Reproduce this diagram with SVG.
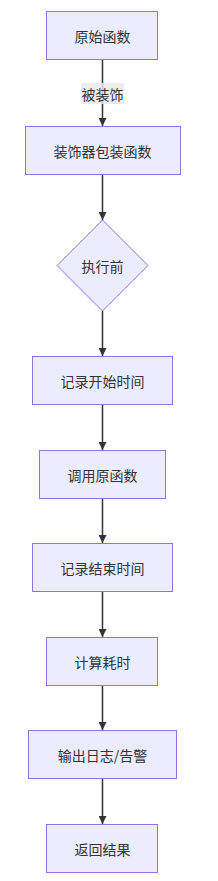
<svg xmlns="http://www.w3.org/2000/svg" width="218" height="881" viewBox="0 0 218 881">
<style>
.node rect, .node polygon { fill: #ECECFF; stroke: #9370DB; stroke-width: 1; }
.node text { font-family: "Noto Sans CJK SC", "Liberation Sans", sans-serif; font-size: 14px; fill: #333333; text-anchor: middle; dominant-baseline: central; }
.edges path { stroke: #333333; stroke-width: 1.5; fill: none; marker-end: url(#arrow); }
.elabel rect { fill: #E8E8E8; fill-opacity: 0.8; }
.elabel text { font-family: "Noto Sans CJK SC", "Liberation Sans", sans-serif; font-size: 14px; fill: #333333; text-anchor: middle; dominant-baseline: central; }
</style>
<defs>
<marker id="arrow" viewBox="0 0 10 10" refX="10" refY="5" markerWidth="8" markerHeight="8" markerUnits="userSpaceOnUse" orient="auto">
<path d="M0,0 L10,5 L0,10 z" fill="#333333"/>
</marker>
</defs>
<rect width="218" height="881" fill="#ffffff"/>
<g class="edges">
<path d="M102.5,60 V126"/>
<path d="M102.5,175 V220"/>
<path d="M102.5,311 V356"/>
<path d="M102.5,405 V450"/>
<path d="M102.5,499 V543"/>
<path d="M102.5,592 V637"/>
<path d="M102.5,686 V730"/>
<path d="M102.5,779 V824"/>
</g>
<g class="elabel" id="label-e1">
<rect x="81" y="83" width="43" height="21"/>
<text x="102.5" y="93.5">被装饰</text>
</g>
<g class="node" id="n1"><rect x="46.5" y="11.5" width="111" height="48"/><text x="102.5" y="35.5">原始函数</text></g>
<g class="node" id="n2"><rect x="25.5" y="126.5" width="155" height="48"/><text x="102.5" y="150.5">装饰器包装函数</text></g>
<g class="node" id="n3"><polygon points="102.5,220 148,265.5 102.5,311 57,265.5"/><text x="102.5" y="265.5">执行前</text></g>
<g class="node" id="n4"><rect x="32.5" y="356.5" width="140" height="48"/><text x="102.5" y="380.5">记录开始时间</text></g>
<g class="node" id="n5"><rect x="39.5" y="450.5" width="126" height="48"/><text x="102.5" y="474.5">调用原函数</text></g>
<g class="node" id="n6"><rect x="32.5" y="543.5" width="140" height="48"/><text x="102.5" y="567.5">记录结束时间</text></g>
<g class="node" id="n7"><rect x="46.5" y="637.5" width="111" height="48"/><text x="102.5" y="661.5">计算耗时</text></g>
<g class="node" id="n8"><rect x="28.5" y="730.5" width="148" height="48"/><text x="102.5" y="754.5">输出日志/告警</text></g>
<g class="node" id="n9"><rect x="46.5" y="824.5" width="111" height="48"/><text x="102.5" y="848.5">返回结果</text></g>
</svg>
